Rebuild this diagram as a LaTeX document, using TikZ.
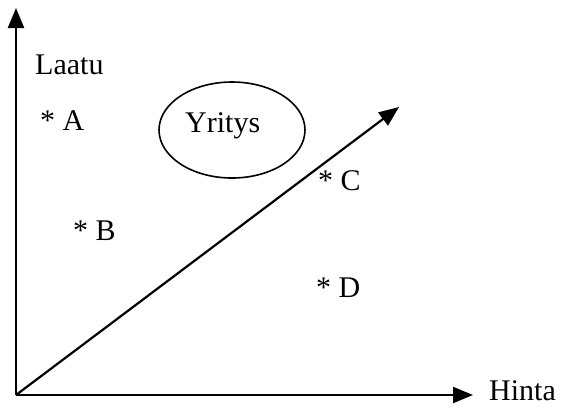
\documentclass[tikz,border=0pt]{standalone}
\usepackage{fontspec}
\setmainfont{Liberation Serif}
\usetikzlibrary{arrows.meta,shapes.geometric}
\begin{document}
\begin{tikzpicture}[x=1pt,y=-1pt,
  axis/.style={line width=2.2pt,-{Triangle[length=20pt,width=16pt]}},
  lbl/.style={anchor=base west,inner sep=0pt,font=\fontsize{30}{36}\selectfont},
  firmshape/.style={draw,ellipse,line width=1.6pt,minimum width=146pt,minimum height=96pt,inner sep=0pt}]
\useasboundingbox (0,0) rectangle (562,408);
\coordinate (O) at (16,395);
\coordinate (Ytip) at (16,8);
\coordinate (Xtip) at (473,395);
\coordinate (Dtip) at (399,107);
\draw[axis] (O) -- (Ytip);
\draw[axis] (O) -- (Xtip);
\draw[axis] (O) -- (Dtip);
\node[firmshape] (firm) at (232,130) {};
\node[lbl] (yritys) at (185,132) {Yritys};
\node[lbl] (laatu) at (35,74) {Laatu};
\node[lbl] (hinta) at (489,400) {Hinta};
\node[lbl] (a) at (40,130) {* A};
\node[lbl] (b) at (73,240) {* B};
\node[lbl] (c) at (318,190) {* C};
\node[lbl] (d) at (316,297) {* D};
\end{tikzpicture}
\end{document}
